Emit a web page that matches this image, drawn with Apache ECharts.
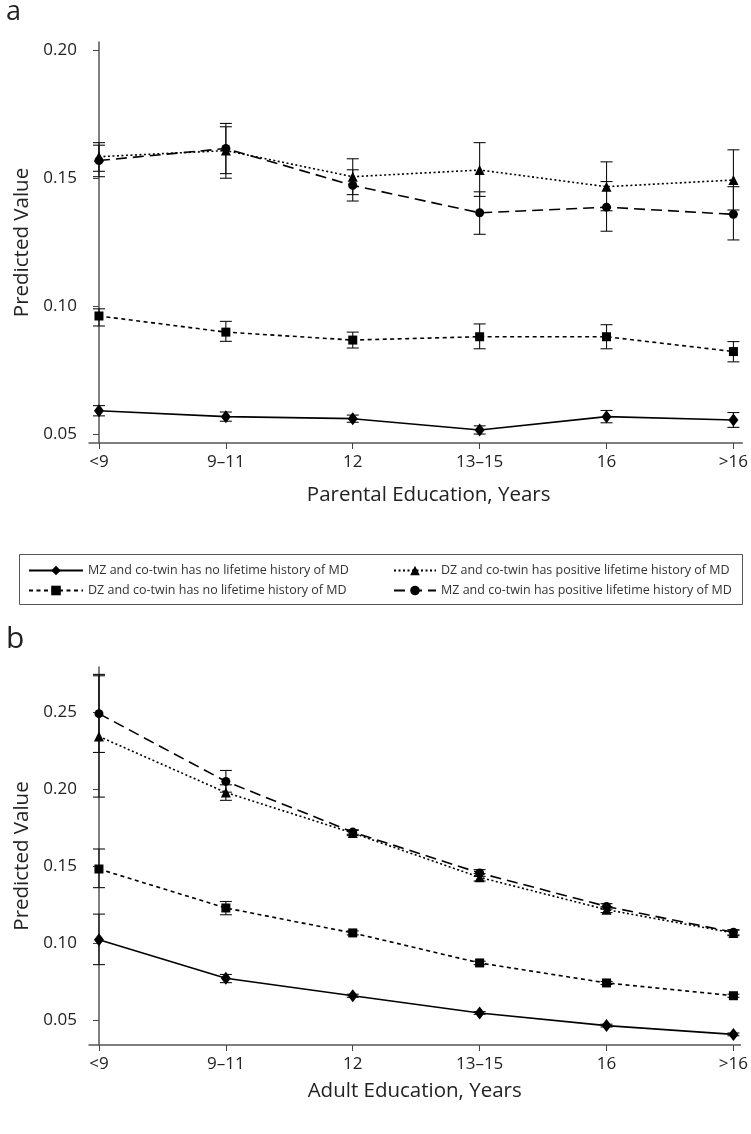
<!DOCTYPE html>
<html>
<head>
<meta charset="utf-8">
<script src="https://cdn.jsdelivr.net/npm/echarts@6/dist/echarts.min.js"></script>
<style>
html,body{margin:0;padding:0;background:#fff;}
#chart{width:751px;height:1134px;}
</style>
</head>
<body>
<div id="chart"></div>
<script>
const categories = ['<9', '9–11', '12', '13–15', '16', '>16'];
const seriesNames = [
  'MZ and co-twin has no lifetime history of MD',
  'DZ and co-twin has no lifetime history of MD',
  'DZ and co-twin has positive lifetime history of MD',
  'MZ and co-twin has positive lifetime history of MD'
];
const yTicksA = [0.05, 0.10, 0.15, 0.20];
const yTicksB = [0.05, 0.10, 0.15, 0.20, 0.25];

// Panel a: parental education
const aMzNo    = [0.0591, 0.0568, 0.0560, 0.0516, 0.0568, 0.0555];
const aMzNoLo  = [0.0571, 0.0550, 0.0546, 0.0500, 0.0544, 0.0526];
const aMzNoHi  = [0.0611, 0.0586, 0.0574, 0.0532, 0.0592, 0.0584];
const aDzNo    = [0.0961, 0.0898, 0.0867, 0.0880, 0.0880, 0.0822];
const aDzNoLo  = [0.0922, 0.0862, 0.0836, 0.0833, 0.0833, 0.0782];
const aDzNoHi  = [0.0989, 0.0940, 0.0898, 0.0930, 0.0927, 0.0861];
const aDzPos   = [0.1583, 0.1607, 0.1505, 0.1531, 0.1466, 0.1492];
const aDzPosLo = [0.1526, 0.1517, 0.1435, 0.1428, 0.1372, 0.1375];
const aDzPosHi = [0.1638, 0.1700, 0.1575, 0.1638, 0.1563, 0.1610];
const aMzPos   = [0.1568, 0.1615, 0.1471, 0.1364, 0.1386, 0.1358];
const aMzPosLo = [0.1505, 0.1499, 0.1410, 0.1280, 0.1292, 0.1258];
const aMzPosHi = [0.1628, 0.1713, 0.1532, 0.1446, 0.1486, 0.1466];

// Panel b: adult education
const bMzNo    = [0.1024, 0.0773, 0.0660, 0.0548, 0.0466, 0.0409];
const bMzNoLo  = [0.0862, 0.0745, 0.0650, 0.0539, 0.0457, 0.0400];
const bMzNoHi  = [0.1190, 0.0798, 0.0670, 0.0557, 0.0475, 0.0418];
const bDzNo    = [0.1483, 0.1230, 0.1068, 0.0873, 0.0743, 0.0660];
const bDzNoLo  = [0.1362, 0.1186, 0.1055, 0.0862, 0.0733, 0.0650];
const bDzNoHi  = [0.1613, 0.1272, 0.1081, 0.0884, 0.0753, 0.0670];
const bDzPos   = [0.2344, 0.1980, 0.1717, 0.1429, 0.1219, 0.1068];
const bDzPosLo = [0.1950, 0.1929, 0.1700, 0.1405, 0.1200, 0.1050];
const bDzPosHi = [0.2738, 0.2030, 0.1734, 0.1453, 0.1238, 0.1086];
const bMzPos   = [0.2492, 0.2052, 0.1723, 0.1457, 0.1240, 0.1072];
const bMzPosLo = [0.2240, 0.1982, 0.1708, 0.1435, 0.1222, 0.1055];
const bMzPosHi = [0.2747, 0.2123, 0.1738, 0.1479, 0.1258, 0.1089];

const FONT = 'Open Sans';
const styles = [
  { symbol: 'diamond', symbolSize: [10, 13], line: { type: 'solid', width: 1.6 } },
  { symbol: 'rect', symbolSize: 9, line: { type: [4, 3.5], width: 1.6 } },
  { symbol: 'triangle', symbolSize: 10, line: { type: [2, 2.5], width: 1.6 } },
  { symbol: 'circle', symbolSize: 9, line: { type: [11, 6], width: 1.6 } }
];

function toPts(arr) { return arr.map((v, i) => [i, v]); }
function toErr(lo, hi) { return lo.map((v, i) => [i, v, hi[i]]); }

function errRender(params, api) {
  const x = api.value(0);
  const p1 = api.coord([x, api.value(1)]);
  const p2 = api.coord([x, api.value(2)]);
  const w = 6;
  const st = { stroke: '#111', lineWidth: 1.1 };
  return {
    type: 'group',
    children: [
      { type: 'line', shape: { x1: p1[0], y1: p1[1], x2: p2[0], y2: p2[1] }, style: st },
      { type: 'line', shape: { x1: p1[0] - w, y1: p1[1], x2: p1[0] + w, y2: p1[1] }, style: st },
      { type: 'line', shape: { x1: p2[0] - w, y1: p2[1], x2: p2[0] + w, y2: p2[1] }, style: st }
    ]
  };
}

const panelA = [[aMzNo, aMzNoLo, aMzNoHi], [aDzNo, aDzNoLo, aDzNoHi], [aDzPos, aDzPosLo, aDzPosHi], [aMzPos, aMzPosLo, aMzPosHi]];
const panelB = [[bMzNo, bMzNoLo, bMzNoHi], [bDzNo, bDzNoLo, bDzNoHi], [bDzPos, bDzPosLo, bDzPosHi], [bMzPos, bMzPosLo, bMzPosHi]];

const series = [];
[panelA, panelB].forEach((panel, g) => {
  panel.forEach((d, k) => {
    series.push({
      type: 'custom', xAxisIndex: g, yAxisIndex: g, renderItem: errRender,
      data: toErr(d[1], d[2]), encode: { x: 0, y: [1, 2] }, z: 2, silent: true
    });
  });
  panel.forEach((d, k) => {
    series.push({
      name: seriesNames[k], type: 'line', xAxisIndex: g, yAxisIndex: g,
      data: toPts(d[0]), symbol: styles[k].symbol, symbolSize: styles[k].symbolSize,
      showAllSymbol: true,
      lineStyle: { color: '#000', width: styles[k].line.width, type: styles[k].line.type },
      itemStyle: { color: '#000', borderWidth: 0 }, z: 3, animation: false
    });
  });
});

function xAxis(gridIndex, max, name, nameGap, padLeft) {
  return {
    type: 'value', gridIndex, min: -0.0785, max,
    axisLine: { show: true, onZero: false, lineStyle: { color: '#555', width: 1.5 } },
    axisTick: { show: true, length: 6, customValues: [0, 1, 2, 3, 4, 5], lineStyle: { color: '#444', width: 1 } },
    axisLabel: { customValues: [0, 1, 2, 3, 4, 5], formatter: v => categories[Math.round(v)], margin: 11,
      fontFamily: FONT, fontSize: 17, color: '#222' },
    splitLine: { show: false },
    name, nameLocation: 'middle', nameGap,
    nameTextStyle: { fontFamily: FONT, fontSize: 20.5, color: '#222', padding: [0, 0, 0, padLeft] }
  };
}
function yAxis(gridIndex, min, max, ticks) {
  return {
    type: 'value', gridIndex, min, max,
    axisLine: { show: true, lineStyle: { color: '#555', width: 1.5 } },
    axisTick: { show: true, length: 6, customValues: ticks, lineStyle: { color: '#444', width: 1 } },
    axisLabel: { customValues: ticks, formatter: v => v.toFixed(2), margin: 12,
      fontFamily: FONT, fontSize: 17, color: '#222' },
    splitLine: { show: false },
    name: 'Predicted Value', nameLocation: 'middle', nameGap: 55,
    nameTextStyle: { fontFamily: FONT, fontSize: 20.5, color: '#222' }
  };
}

const legendCommon = {
  orient: 'vertical', itemGap: 7, itemHeight: 12,
  textStyle: { fontFamily: FONT, fontSize: 12.5, color: '#333', padding: [0, 0, 0, 0] },
  itemStyle: { color: '#000' }, inactiveColor: '#000', selectedMode: false, padding: 0
};

const option = {
  backgroundColor: '#fff',
  animation: false,
  title: [
    { text: 'a', left: 1, top: -6, textStyle: { fontFamily: FONT, fontSize: 27, fontWeight: 'normal', color: '#222' } },
    { text: 'b', left: 1, top: 619, textStyle: { fontFamily: FONT, fontSize: 30, fontWeight: 'normal', color: '#222' } }
  ],
  grid: [
    { left: 89, top: 42, width: 656, height: 401 },
    { left: 89, top: 667, width: 654, height: 378 }
  ],
  xAxis: [xAxis(0, 5.07, 'Parental Education, Years', 42, 26), xAxis(1, 5.055, 'Adult Education, Years', 36, 0)],
  yAxis: [yAxis(0, 0.0465, 0.2031, yTicksA), yAxis(1, 0.034, 0.2795, yTicksB)],
  legend: [
    Object.assign({}, legendCommon, { left: 28, top: 564, itemWidth: 54, data: [seriesNames[0], seriesNames[1]] }),
    Object.assign({}, legendCommon, { left: 393, top: 564, itemWidth: 42, data: [seriesNames[2], seriesNames[3]] })
  ],
  graphic: [
    { type: 'rect', left: 17, top: 552, shape: { width: 723, height: 50 }, style: { fill: 'none', stroke: '#555', lineWidth: 1 }, z: -1 }
  ],
  series
};

const chart = echarts.init(document.getElementById('chart'), null, { renderer: 'canvas' });
chart.setOption(option);
</script>
</body>
</html>
